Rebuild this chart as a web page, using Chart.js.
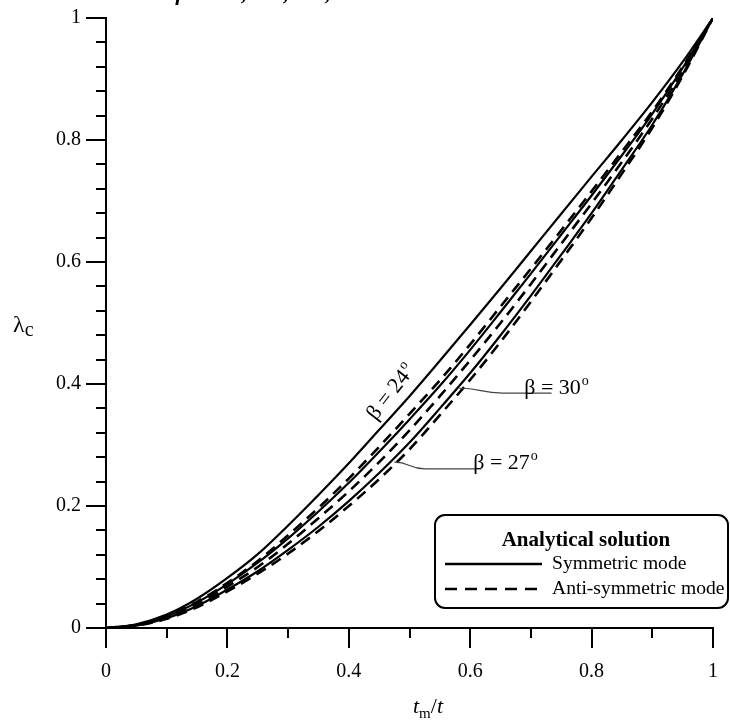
<!DOCTYPE html>
<html><head><meta charset="utf-8">
<script src="https://cdn.jsdelivr.net/npm/chart.js@4/dist/chart.umd.min.js"></script>
<style>html,body{margin:0;padding:0;background:#fff}#wrap{width:730px;height:724px;position:relative}</style>
</head><body><div id="wrap"><canvas id="c" width="730" height="724"></canvas></div>
<script>
// ---- data ----
const ratioX   = [0, 0.05, 0.1, 0.15, 0.2, 0.25, 0.3, 0.35, 0.4, 0.45, 0.5, 0.55, 0.6, 0.65, 0.7, 0.75, 0.8, 0.85, 0.9, 0.95, 1];
const solidA   = [0, 0.006, 0.022, 0.048, 0.082, 0.121, 0.168, 0.218, 0.270, 0.325, 0.380, 0.438, 0.497, 0.557, 0.618, 0.679, 0.740, 0.800, 0.862, 0.928, 1];
const dashedA  = [0, 0.005, 0.020, 0.043, 0.074, 0.110, 0.152, 0.197, 0.245, 0.297, 0.351, 0.406, 0.465, 0.527, 0.589, 0.652, 0.716, 0.781, 0.847, 0.920, 1];
const solidB   = [0, 0.005, 0.019, 0.042, 0.072, 0.107, 0.147, 0.191, 0.238, 0.289, 0.342, 0.397, 0.456, 0.518, 0.581, 0.645, 0.709, 0.775, 0.843, 0.918, 1];
const dashedB  = [0, 0.005, 0.017, 0.039, 0.068, 0.100, 0.138, 0.180, 0.224, 0.272, 0.324, 0.380, 0.439, 0.500, 0.564, 0.630, 0.696, 0.764, 0.835, 0.913, 1];
const solidC   = [0, 0.004, 0.016, 0.036, 0.063, 0.093, 0.128, 0.166, 0.208, 0.254, 0.304, 0.360, 0.418, 0.480, 0.545, 0.612, 0.680, 0.752, 0.825, 0.908, 1];
const dashedC  = [0, 0.004, 0.015, 0.034, 0.060, 0.089, 0.122, 0.159, 0.200, 0.244, 0.293, 0.349, 0.407, 0.469, 0.535, 0.603, 0.672, 0.745, 0.820, 0.905, 1];

const xTickLabels = ['0', '0.2', '0.4', '0.6', '0.8', '1'];
const yTickLabels = ['0', '0.2', '0.4', '0.6', '0.8', '1'];
const xMinorTicks = [0.1, 0.3, 0.5, 0.7, 0.9];
const yMinorTicks = [0.04, 0.08, 0.12, 0.16, 0.24, 0.28, 0.32, 0.36, 0.44, 0.48, 0.52, 0.56, 0.64, 0.68, 0.72, 0.76, 0.84, 0.88, 0.92, 0.96];

const label24 = { beta: '24', at: [0.49, 0.370], angle: -52 };
const label30 = { beta: '30', at: [0.689, 0.393] };
const label27 = { beta: '27', at: [0.605, 0.272] };
const leader30 = [[0.582, 0.393], [0.653, 0.385], [0.734, 0.385]];
const leader27 = [[0.475, 0.272], [0.525, 0.261], [0.618, 0.261]];

const legendTitle = 'Analytical solution';
const legendItems = ['Symmetric mode', 'Anti-symmetric mode'];
const topNote = 'β = 24°, 27°, 30°, and θ = 0°';

const SERIF = "'Liberation Serif', 'Times New Roman', serif";

function pts(ys) { return ratioX.map((x, i) => ({ x: x, y: ys[i] })); }
function ds(ys, dashed) {
  return {
    data: pts(ys), borderColor: '#000', borderWidth: dashed ? 2.6 : 2.2,
    borderDash: dashed ? [11, 7] : [], pointRadius: 0, fill: false,
    cubicInterpolationMode: 'monotone'
  };
}

function betaText(ctx, num, x, y, align) {
  ctx.font = '22px ' + SERIF;
  const main = 'β = ' + num;
  const w = ctx.measureText(main).width;
  ctx.font = '14px ' + SERIF;
  const wo = ctx.measureText('o').width;
  let x0 = x;
  if (align === 'center') x0 = x - (w + wo) / 2;
  ctx.textAlign = 'left';
  ctx.textBaseline = 'alphabetic';
  ctx.font = '22px ' + SERIF;
  ctx.fillText(main, x0, y);
  ctx.font = '14px ' + SERIF;
  ctx.fillText('o', x0 + w + 1, y - 9);
}

function leader(ctx, xs, ys, line) {
  const p = line.map(q => [xs.getPixelForValue(q[0]), ys.getPixelForValue(q[1])]);
  ctx.beginPath();
  ctx.moveTo(p[0][0], p[0][1]);
  const mx = (p[0][0] + p[1][0]) / 2;
  ctx.bezierCurveTo(mx, p[0][1], mx, p[1][1], p[1][0], p[1][1]);
  ctx.lineTo(p[2][0], p[2][1]);
  ctx.stroke();
}

const deco = {
  id: 'deco',
  afterDraw(chart) {
    const ctx = chart.ctx;
    const xs = chart.scales.x, ys = chart.scales.y;
    ctx.save();
    // minor ticks
    ctx.strokeStyle = '#000'; ctx.lineWidth = 2;
    yMinorTicks.forEach(v => {
      const py = Math.round(ys.getPixelForValue(v));
      ctx.beginPath(); ctx.moveTo(xs.left - 10, py); ctx.lineTo(xs.left, py); ctx.stroke();
    });
    xMinorTicks.forEach(v => {
      const px = Math.round(xs.getPixelForValue(v));
      ctx.beginPath(); ctx.moveTo(px, ys.bottom); ctx.lineTo(px, ys.bottom + 10); ctx.stroke();
    });

    ctx.fillStyle = '#000';
    // y title  λc
    ctx.textAlign = 'left'; ctx.textBaseline = 'alphabetic';
    ctx.font = '24px ' + SERIF;
    ctx.fillText('λ', 13, 332);
    const lw = ctx.measureText('λ').width;
    ctx.font = '20px ' + SERIF;
    ctx.fillText('c', 13 + lw, 336);

    // x title  t_m/t
    const parts = [
      { t: 't', f: 'italic 22px ' + SERIF, dy: 0 },
      { t: 'm', f: '15px ' + SERIF, dy: 5 },
      { t: '/', f: '22px ' + SERIF, dy: 0 },
      { t: 't', f: 'italic 22px ' + SERIF, dy: 0 }
    ];
    let tw = 0;
    parts.forEach(p => { ctx.font = p.f; p.w = ctx.measureText(p.t).width; tw += p.w; });
    let cx = 428 - tw / 2;
    parts.forEach(p => { ctx.font = p.f; ctx.fillText(p.t, cx, 713 + p.dy); cx += p.w; });

    // cut-off note at the top (only its lowest pixels are visible)
    ctx.font = 'italic bold 22px ' + SERIF;
    ctx.fillText(topNote, 176, 0);

    // beta = 24 rotated label, sitting above the top curve
    ctx.save();
    ctx.translate(xs.getPixelForValue(label24.at[0]), ys.getPixelForValue(label24.at[1]));
    ctx.rotate(label24.angle * Math.PI / 180);
    betaText(ctx, label24.beta, 0, -10, 'center');
    ctx.restore();

    // leaders + labels
    ctx.strokeStyle = '#444'; ctx.lineWidth = 1.2;
    leader(ctx, xs, ys, leader30);
    leader(ctx, xs, ys, leader27);
    betaText(ctx, label30.beta, xs.getPixelForValue(label30.at[0]), ys.getPixelForValue(label30.at[1]) + 6, 'left');
    betaText(ctx, label27.beta, xs.getPixelForValue(label27.at[0]), ys.getPixelForValue(label27.at[1]) + 7, 'left');

    // legend box
    const bx = 435, by = 515, bw = 293, bh = 93, r = 10;
    ctx.beginPath();
    ctx.moveTo(bx + r, by);
    ctx.arcTo(bx + bw, by, bx + bw, by + bh, r);
    ctx.arcTo(bx + bw, by + bh, bx, by + bh, r);
    ctx.arcTo(bx, by + bh, bx, by, r);
    ctx.arcTo(bx, by, bx + bw, by, r);
    ctx.closePath();
    ctx.fillStyle = '#fff'; ctx.fill();
    ctx.strokeStyle = '#000'; ctx.lineWidth = 2; ctx.stroke();
    ctx.fillStyle = '#000';
    ctx.font = 'bold 21px ' + SERIF;
    ctx.textAlign = 'center'; ctx.textBaseline = 'middle';
    ctx.fillText(legendTitle, 586, 541);
    ctx.lineWidth = 2.6;
    ctx.beginPath(); ctx.setLineDash([]); ctx.moveTo(445, 564); ctx.lineTo(542, 564); ctx.stroke();
    ctx.beginPath(); ctx.setLineDash([12, 8]); ctx.moveTo(445, 589); ctx.lineTo(542, 589); ctx.stroke();
    ctx.setLineDash([]);
    ctx.font = '19.6px ' + SERIF; ctx.textAlign = 'left';
    ctx.fillText(legendItems[0], 552, 564);
    ctx.fillText(legendItems[1], 552, 589);
    ctx.restore();
  }
};

new Chart(document.getElementById('c'), {
  type: 'line',
  data: {
    datasets: [ds(solidA, false), ds(dashedA, true), ds(solidB, false), ds(dashedB, true), ds(solidC, false), ds(dashedC, true)]
  },
  options: {
    responsive: false, animation: false, devicePixelRatio: 1,
    layout: { padding: { top: 18, right: 16, left: 0, bottom: 0 } },
    plugins: { legend: { display: false }, tooltip: { enabled: false } },
    scales: {
      x: {
        type: 'linear', min: 0, max: 1,
        ticks: { stepSize: 0.2, color: '#000', padding: 12, maxRotation: 0, autoSkip: false,
          font: { family: SERIF, size: 20 }, callback: (v, i) => xTickLabels[i] },
        grid: { drawOnChartArea: false, color: '#000', lineWidth: 2, tickLength: 20 },
        border: { color: '#000', width: 2 },
        afterFit(s) { s.height = 96; }
      },
      y: {
        type: 'linear', min: 0, max: 1,
        ticks: { stepSize: 0.2, color: '#000', padding: 5, autoSkip: false,
          font: { family: SERIF, size: 20 }, callback: (v, i) => yTickLabels[i] },
        grid: { drawOnChartArea: false, color: '#000', lineWidth: 2, tickLength: 20 },
        border: { color: '#000', width: 2 },
        afterFit(s) { s.width = 106; }
      }
    }
  },
  plugins: [deco]
});
</script>
</body></html>
